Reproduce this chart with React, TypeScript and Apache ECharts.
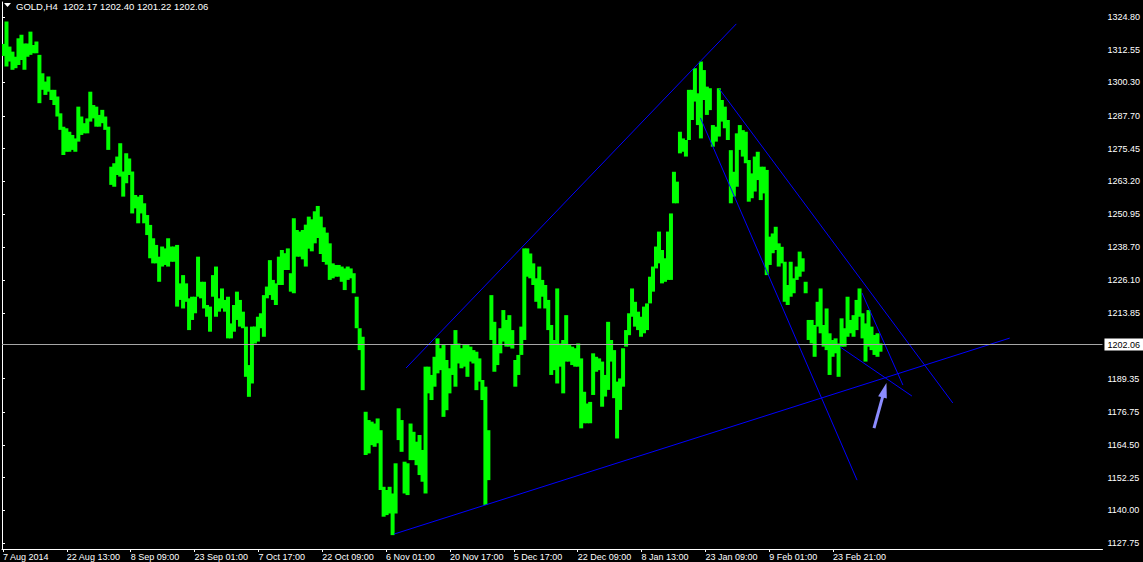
import React, { useEffect, useRef } from "react";
import * as echarts from "echarts";

// Each entry summarises 3 consecutive H4 bars (high / low of the span)
const BARS_PER_ENTRY = 3;

const highs = [
  1314.7,1323.1,1313.7,1311.8,1309.9,1316.8,1318.1,1314.9,1314.9,1319.3,1314.3,1315.6,1310.6,1303.7,1300.6,1302.5,1297.5,1297.5,1295.0,1288.7,1283.7,1283.1,1281.8,1280.6,1279.3,1291.2,1287.5,1285.0,1286.8,1296.8,1291.8,1291.2,1288.1,1290.0,1287.5,1283.7,1268.7,1270.0,1272.5,1277.5,1266.9,1273.7,1271.8,1266.9,1258.1,1257.5,1258.1,1255.0,1250.6,1246.9,
  1241.9,1239.4,1235.0,1238.8,1238.1,1241.9,1238.8,1238.8,1239.4,1225.0,1228.1,1225.0,1219.4,1220.0,1220.0,1235.0,1225.6,1225.6,1216.9,1216.3,1228.1,1231.3,1219.4,1223.1,1218.8,1220.0,1210.0,1216.9,1221.9,1218.8,1214.4,1208.8,1194.4,1208.8,1208.8,1212.5,1213.8,1220.6,1223.8,1233.7,1226.3,1225.0,1235.0,1237.5,1236.3,1238.1,1228.8,1249.4,1245.0,1244.4,
  1245.0,1247.0,1250.0,1249.0,1252.0,1254.0,1250.0,1246.0,1244.0,1240.0,1232.5,1231.9,1231.9,1231.3,1230.6,1231.3,1230.6,1228.8,1220.0,1208.2,1205.0,1176.9,1173.8,1173.2,1172.5,1174.4,1170.0,1148.8,1147.6,1148.8,1146.3,1157.6,1178.2,1173.8,1158.2,1157.6,1172.5,1169.4,1165.7,1168.2,1162.6,1193.8,1193.8,1190.7,1197.5,1204.4,1200.7,1201.9,1196.3,1193.2,
  1201.9,1207.5,1202.5,1200.7,1201.9,1201.9,1201.3,1200.0,1199.4,1196.9,1188.8,1186.3,1170.0,1220.6,1210.6,1201.9,1208.2,1215.0,1211.3,1213.1,1207.5,1196.3,1198.2,1208.8,1238.1,1238.1,1236.2,1232.5,1226.9,1231.3,1226.3,1224.4,1218.8,1209.4,1203.8,1223.1,1202.5,1203.8,1213.1,1201.9,1201.3,1200.7,1202.5,1196.9,1184.4,1180.0,1180.6,1198.8,1197.5,1196.9,
  1195.7,1190.7,1210.6,1203.8,1200.0,1188.2,1189.4,1200.7,1207.5,1213.8,1223.1,1218.1,1214.4,1212.5,1216.3,1217.5,1227.5,1231.3,1238.8,1244.4,1237.5,1234.4,1244.4,1251.2,1266.8,1263.1,1281.8,1279.3,1278.7,1297.5,1297.5,1305.6,1296.2,1308.1,1304.9,1298.7,1298.1,1284.3,1283.7,1298.1,1293.7,1291.2,1286.2,1274.9,1266.8,1281.2,1284.3,1282.4,1281.8,1271.2,
  1266.2,1272.5,1274.3,1268.7,1268.7,1267.5,1242.5,1243.7,1246.2,1240.0,1238.7,1233.1,1224.4,1233.1,1226.9,1231.3,1236.9,1234.4,1225.6,1211.3,1211.3,1209.4,1218.1,1223.1,1209.4,1215.6,1206.3,1203.8,1204.4,1202.5,1211.9,1208.2,1220.0,1211.3,1213.1,1218.8,1223.1,1213.8,1210.0,1215.0,1208.8,1205.7,1206.3,1202.5,
];

const lows = [
  1310.2,1306.2,1308.1,1305.0,1305.6,1306.8,1308.7,1305.0,1309.9,1310.6,1311.2,1311.2,1292.5,1297.5,1295.6,1296.8,1293.7,1291.8,1287.5,1282.5,1273.1,1274.3,1274.3,1275.0,1274.3,1278.1,1280.6,1281.2,1281.2,1285.6,1286.8,1283.7,1283.7,1285.0,1282.5,1275.0,1261.9,1261.2,1265.6,1265.0,1257.5,1262.5,1265.6,1251.2,1253.1,1247.5,1251.2,1247.5,1243.1,1234.4,
  1232.5,1232.5,1225.6,1231.3,1231.9,1231.3,1233.1,1233.1,1216.3,1218.8,1215.6,1218.1,1207.5,1211.3,1213.8,1220.0,1219.4,1215.6,1212.5,1206.9,1220.0,1212.5,1214.4,1215.6,1214.4,1204.4,1204.4,1206.9,1211.3,1208.8,1208.2,1190.0,1182.5,1187.5,1202.5,1203.2,1208.2,1205.0,1219.4,1220.6,1218.8,1216.9,1224.4,1224.4,1230.0,1230.0,1221.9,1221.3,1235.0,1235.0,
  1234.0,1231.3,1238.0,1237.0,1240.0,1242.0,1236.0,1233.0,1232.0,1226.3,1226.9,1227.5,1227.5,1225.6,1222.5,1226.3,1226.9,1221.3,1208.2,1200.0,1185.0,1160.7,1161.3,1164.4,1163.8,1165.1,1147.6,1137.6,1138.2,1138.8,1130.7,1138.8,1166.3,1161.9,1146.3,1145.7,1158.8,1158.8,1156.9,1153.2,1150.7,1146.3,1183.8,1181.3,1186.3,1191.3,1192.5,1175.0,1177.5,1183.8,
  1190.7,1186.3,1195.0,1193.2,1193.8,1190.0,1195.7,1195.0,1185.0,1188.2,1181.3,1142.0,1151.3,1203.8,1191.9,1194.4,1198.8,1203.2,1201.3,1201.3,1200.6,1186.3,1190.7,1198.2,1203.8,1227.5,1226.9,1224.4,1218.1,1215.6,1220.0,1215.6,1207.5,1190.7,1192.5,1187.5,1193.8,1183.8,1195.7,1195.7,1194.4,1193.8,1193.8,1170.7,1172.6,1172.6,1172.6,1183.2,1191.9,1192.5,
  1178.8,1182.6,1185.1,1195.7,1182.0,1166.9,1177.6,1186.3,1201.3,1205.6,1212.5,1208.8,1207.5,1205.0,1206.3,1207.5,1217.5,1221.9,1230.6,1232.5,1225.0,1225.6,1226.3,1226.3,1255.0,1255.0,1273.7,1274.3,1272.5,1278.7,1286.2,1293.1,1284.3,1279.3,1293.7,1288.1,1289.9,1276.2,1278.1,1280.0,1285.6,1283.1,1278.7,1255.0,1257.5,1261.2,1275.0,1272.5,1270.0,1255.6,
  1256.9,1259.4,1263.7,1256.2,1258.7,1228.1,1231.9,1236.3,1237.5,1231.3,1232.5,1218.1,1216.9,1220.0,1221.3,1226.3,1227.5,1229.4,1221.3,1203.8,1202.5,1197.5,1208.8,1206.3,1201.3,1200.0,1190.7,1197.5,1198.8,1190.0,1201.3,1201.3,1205.0,1206.3,1205.0,1207.5,1212.5,1204.4,1195.7,1201.3,1200.0,1198.2,1197.5,1199.4,
];

const xTickLabels = [
  "7 Aug 2014", "22 Aug 13:00", "8 Sep 09:00", "23 Sep 01:00", "7 Oct 17:00",
  "22 Oct 09:00", "6 Nov 01:00", "20 Nov 17:00", "5 Dec 17:00", "22 Dec 09:00",
  "8 Jan 13:00", "23 Jan 09:00", "9 Feb 01:00", "23 Feb 21:00",
];
const X_TICK_STEP = 64;

const yTickValues = [
  1324.8, 1312.55, 1300.3, 1287.7, 1275.45, 1263.2, 1250.95, 1238.7, 1226.1,
  1213.85, 1189.35, 1176.75, 1164.5, 1152.25, 1140.0, 1127.75,
];

const currentPrice = 1202.06;
const headerText = "GOLD,H4  1202.17 1202.40 1201.22 1202.06";

// trend lines: [barIndex1, price1, barIndex2, price2]
const trendLines = [
  [405, 1193.3, 736, 1322.2],
  [393, 1131.1, 1010, 1204.5],
  [700, 1287.0, 857, 1151.3],
  [719, 1297.8, 953, 1180.2],
  [840, 1201.2, 912, 1182.8],
  [862, 1221.4, 903, 1186.9],
];
const arrowLine = [874, 1170.8, 884.5, 1185.0];

const FONT = "Liberation Sans";

export default function App() {
  const ref = useRef<HTMLDivElement>(null);
  useEffect(() => {
    document.body.style.margin = "0";
    document.body.style.background = "#000";
    const chart = echarts.init(ref.current!, null, { renderer: "svg" });
    const barData = highs.map((h, i) => [i * BARS_PER_ENTRY, lows[i], h]);
    const xTickValues = xTickLabels.map((_, i) => i * X_TICK_STEP + 1);

    const series: any[] = [
      {
        type: "custom",
        silent: true,
        clip: true,
        data: barData,
        encode: { x: 0, y: [1, 2] },
        renderItem: (params: any, api: any) => {
          const x = api.value(0);
          const lo = api.value(1);
          const hi = api.value(2);
          const p1 = api.coord([x, hi]);
          const p2 = api.coord([x + BARS_PER_ENTRY, lo]);
          return {
            type: "rect",
            shape: {
              x: p1[0] - 0.5,
              y: p1[1],
              width: p2[0] - p1[0] + 1,
              height: Math.max(1, p2[1] - p1[1]),
            },
            style: { fill: "#00ff00" },
          };
        },
      },
      {
        type: "line",
        data: [],
        silent: true,
        markLine: {
          silent: true,
          symbol: ["none", "none"],
          lineStyle: { color: "#a6a6a6", width: 1, type: "solid" },
          label: {
            show: true,
            position: "end",
            distance: 2,
            formatter: currentPrice.toFixed(2),
            backgroundColor: "#ffffff",
            color: "#000000",
            fontFamily: FONT,
            fontSize: 9,
            padding: [2, 3, 1, 3],
          },
          data: [{ yAxis: currentPrice }],
        },
      },
      ...trendLines.map((t) => ({
        type: "line",
        silent: true,
        showSymbol: false,
        symbol: "none",
        data: [
          [t[0], t[1]],
          [t[2], t[3]],
        ],
        lineStyle: { color: "#0000ff", width: 1 },
      })),
      {
        type: "line",
        data: [],
        silent: true,
        markLine: {
          silent: true,
          symbol: ["none", "triangle"],
          symbolSize: [9, 15],
          lineStyle: { color: "#8c8cff", width: 3, type: "solid" },
          itemStyle: { color: "#8c8cff" },
          label: { show: false },
          data: [
            [
              { coord: [arrowLine[0], arrowLine[1]] },
              { coord: [arrowLine[2], arrowLine[3]] },
            ],
          ],
        },
      },
    ];

    chart.setOption({
      animation: false,
      backgroundColor: "#000000",
      grid: { left: 0, right: 40, top: 2, bottom: 13 },
      xAxis: {
        type: "value",
        min: 0,
        max: 1103,
        axisLine: { show: true, lineStyle: { color: "#ffffff", width: 1 } },
        axisTick: {
          show: true,
          length: 3,
          lineStyle: { color: "#ffffff" },
          customValues: xTickValues,
        },
        splitLine: { show: false },
        axisLabel: {
          color: "#ffffff",
          fontFamily: FONT,
          fontSize: 9,
          align: "left",
          margin: 3,
          customValues: xTickValues,
          formatter: (v: number) => xTickLabels[Math.round((v - 1) / X_TICK_STEP)] ?? "",
        },
      },
      yAxis: {
        type: "value",
        position: "right",
        min: 1125.5,
        max: 1330.4,
        scale: true,
        axisLine: { show: true, lineStyle: { color: "#ffffff", width: 1 } },
        axisTick: {
          show: true,
          length: 3,
          lineStyle: { color: "#ffffff" },
          customValues: yTickValues,
        },
        splitLine: { show: false },
        axisLabel: {
          color: "#ffffff",
          fontFamily: FONT,
          fontSize: 9,
          margin: 5,
          customValues: yTickValues,
          formatter: (v: number) => v.toFixed(2),
        },
      },
      graphic: [
        {
          type: "polygon",
          shape: { points: [[4, 3], [11, 3], [7.5, 7]] },
          style: { fill: "#ffffff" },
        },
        {
          type: "text",
          left: 16,
          top: 1,
          style: {
            text: headerText,
            fill: "#ffffff",
            font: `9.5px "${FONT}"`,
          },
        },
      ],
      series,
    });
    return () => chart.dispose();
  }, []);
  return <div ref={ref} style={{ width: 1143, height: 562 }} />;
}
